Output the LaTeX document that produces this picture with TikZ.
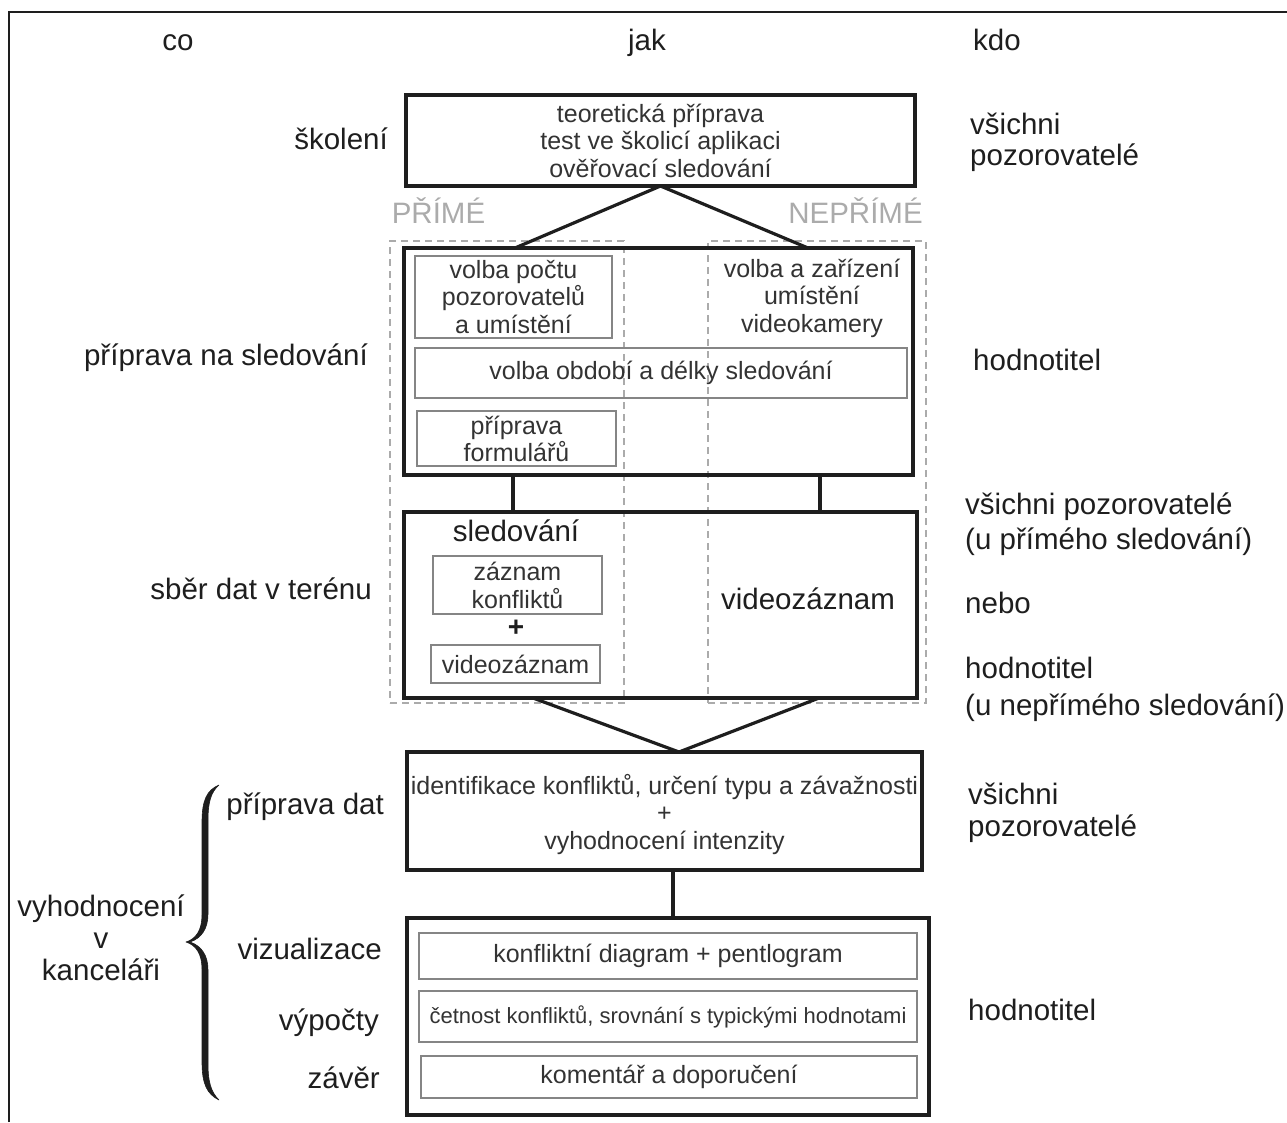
\documentclass[tikz,border=0pt]{standalone}
\usepackage{fontspec}
\setmainfont{Liberation Sans}
\usetikzlibrary{calc}
\definecolor{ink}{HTML}{1E1E1E}
\definecolor{boxtxt}{HTML}{333333}
\definecolor{thin}{HTML}{858585}
\definecolor{pale}{HTML}{ABABAB}
\definecolor{dashc}{HTML}{ABABAB}
\begin{document}
\begin{tikzpicture}[x=1pt,y=-1pt,
  lab/.style={font=\fontsize{29.5}{31}\selectfont, text=ink, inner sep=0pt, text height=22pt, text depth=6pt},
  labm/.style={font=\fontsize{29.5}{32}\selectfont, text=ink, inner sep=0pt, align=center},
  boxt/.style={font=\fontsize{25}{27.5}\selectfont, text=boxtxt, align=center},
  big/.style={draw=ink, line width=3.2pt, inner sep=0pt, outer sep=0pt},
  small/.style={draw=thin, line width=1.6pt, inner sep=0pt, outer sep=0pt, font=\fontsize{25}{27}\selectfont, text=boxtxt, align=center},
  conn/.style={draw=ink, line width=3.2pt},
  dbox/.style={draw=dashc, line width=1.3pt, dash pattern=on 7pt off 5pt, inner sep=0pt, outer sep=0pt},
  braceshape/.style={fill=ink, draw=ink, line width=0.6pt, line join=round},
]
\useasboundingbox (0,0) rectangle (1287,1122);
% frame
\coordinate (f1) at (9,1122);
\coordinate (f2) at (9,12);
\coordinate (f3) at (1287,12);
\draw[ink, line width=2pt] (f1) -- (f2) -- (f3);

% headers
\node[lab] (co) at (178,42) {co};
\node[lab] (jak) at (647,42) {jak};
\node[lab] (kdo) at (997,42) {kdo};

% dashed groups
\node[dbox, minimum width=234pt, minimum height=462pt] (dleft) at (507,472) {};
\node[dbox, minimum width=218pt, minimum height=462pt] (dright) at (817,472) {};
\node[lab, text=pale] (prime) at (438.5,215) {PŘÍMÉ};
\node[lab, text=pale] (nepr) at (855.5,215) {NEPŘÍMÉ};

% training
\node[big, boxt, minimum width=509pt, minimum height=91pt, fill=white] (train) at (660.5,140.5) {teoretická příprava\\test ve školicí aplikaci\\ověřovací sledování};

% preparation
\node[big, minimum width=509pt, minimum height=227pt] (prep) at (658.5,361.5) {};
\node[small, minimum width=197pt, minimum height=82pt, font=\fontsize{25}{27.5}\selectfont] (pocet) at (513.5,297) {volba počtu\\pozorovatelů\\a umístění};
\node[boxt, inner sep=0pt] (kamera) at (812,298) {volba a zařízení\\umístění\\videokamery};
\node[small, minimum width=492pt, minimum height=50pt] (obdobi) at (661,373) {volba období a délky sledování};
\node[small, minimum width=199pt, minimum height=55pt] (form) at (516.5,438.5) {příprava\\formulářů};

% collection
\node[big, minimum width=513pt, minimum height=186pt] (coll) at (660.5,605) {};
\node[lab] (sled) at (516,533) {sledování};
\node[small, minimum width=169pt, minimum height=58pt, font=\fontsize{25}{28}\selectfont] (zazn) at (517.5,585) {záznam\\konfliktů};
\node[font=\bfseries\fontsize{28}{30}\selectfont, text=ink, inner sep=0pt] (plus) at (516,628) {+};
\node[small, minimum width=169pt, minimum height=38pt] (vz) at (515.5,664) {videozáznam};
\node[lab] (vz2) at (808,601) {videozáznam};

% identification
\node[big, boxt, minimum width=515pt, minimum height=118pt] (ident) at (664.5,811) {};
\node[boxt, inner sep=0pt] (identt) at (664.5,814.5) {identifikace konfliktů, určení typu a závažnosti\\+\\vyhodnocení intenzity};

% evaluation
\node[big, minimum width=522pt, minimum height=197pt] (eval) at (668,1016.5) {};
\node[small, minimum width=498pt, minimum height=46pt] (viz) at (668,956) {konfliktní diagram + pentlogram};
\node[small, minimum width=498pt, minimum height=51pt, font=\fontsize{22}{24}\selectfont] (cet) at (668,1016.5) {četnost konfliktů, srovnání s typickými hodnotami};
\node[small, minimum width=496pt, minimum height=42pt] (kom) at (669,1077) {komentář a doporučení};

% connectors
\draw[conn, line join=round] ([xshift=111pt]prep.north west) -- (train.south) -- ([xshift=404pt]prep.north west);
\draw[conn] ([xshift=109pt]prep.south west) -- ([xshift=109pt]coll.north west);
\draw[conn] ([xshift=416pt]prep.south west) -- ([xshift=416pt]coll.north west);
\draw[conn, line join=round] ([xshift=129pt]coll.south west) -- ([xshift=272pt]ident.north west) -- ([xshift=415pt]coll.south west);
\draw[conn] ([xshift=266pt]ident.south west) -- ([xshift=266pt]eval.north west);

% left labels
\node[lab, anchor=east] (l1) at (388,141) {školení};
\node[lab, anchor=east] (l2) at (368,357) {příprava na sledování};
\node[lab, anchor=east] (l3) at (372,591) {sběr dat v terénu};
\node[lab, anchor=east] (l4) at (384,806) {příprava dat};
\node[labm] (l5) at (101,938) {vyhodnocení\\v\\kanceláři};
\node[lab, anchor=east] (l6) at (382,951) {vizualizace};
\node[lab, anchor=east] (l7) at (379,1022) {výpočty};
\node[lab, anchor=east] (l8) at (380,1080) {závěr};

% brace (typographic shape)
\path[braceshape]
  (219,785) .. controls (207,790) and (202,800) .. (202,822)
  -- (202,915) .. controls (202,930) and (196,939) .. (186,942)
  .. controls (196,945) and (202,954) .. (202,969)
  -- (202,1062) .. controls (202,1084) and (207,1094) .. (219,1100)
  .. controls (211,1092) and (208,1082) .. (208,1064)
  -- (208,970) .. controls (208,956) and (202,946) .. (190,942)
  .. controls (202,938) and (208,928) .. (208,914)
  -- (208,820) .. controls (208,802) and (211,792) .. (219,785) -- cycle;

% right labels
\node[lab, anchor=west] (r1) at (970,126) {všichni};
\node[lab, anchor=west] (r1b) at (970,157) {pozorovatelé};
\node[lab, anchor=west] (r2) at (973,362) {hodnotitel};
\node[lab, anchor=west] (r3) at (965,506) {všichni pozorovatelé};
\node[lab, anchor=west] (r3b) at (965,541) {(u přímého sledování)};
\node[lab, anchor=west] (r3c) at (965,605) {nebo};
\node[lab, anchor=west] (r3d) at (965,670) {hodnotitel};
\node[lab, anchor=west] (r3e) at (965,707) {(u nepřímého sledování)};
\node[lab, anchor=west] (r4) at (968,796) {všichni};
\node[lab, anchor=west] (r4b) at (968,828) {pozorovatelé};
\node[lab, anchor=west] (r5) at (968,1012) {hodnotitel};
\end{tikzpicture}
\end{document}
